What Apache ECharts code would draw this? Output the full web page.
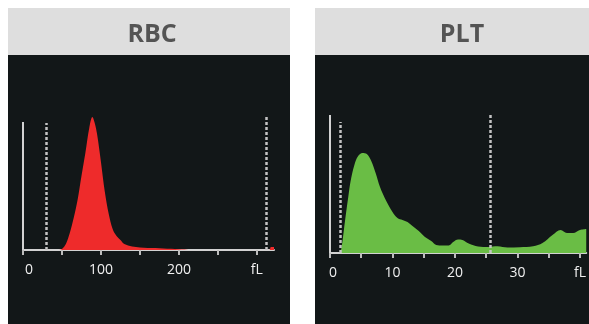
<!DOCTYPE html>
<html>
<head>
<meta charset="utf-8">
<script src="https://cdn.jsdelivr.net/npm/echarts@6/dist/echarts.min.js"></script>
<style>
html,body{margin:0;padding:0;background:#ffffff;}
#chart{width:589px;height:324px;}
</style>
</head>
<body>
<div id="chart"></div>
<script>
// ---- data ----
var panelTitles = ['RBC', 'PLT'];

// RBC histogram (volume fL, relative count)
var rbcVolume = [46, 50, 55, 60, 65, 70, 75, 80, 85, 89, 92, 95, 100, 105, 110, 115, 120, 125, 130, 140, 150, 160, 170, 180, 190, 200, 207, 212, 316, 318, 322];
var rbcCount  = [0, 1, 6, 17, 32, 50, 74, 97, 122, 133, 127, 116, 88, 58, 36, 21, 14, 10, 6, 3.5, 2.5, 2, 2, 1.6, 1.2, 0.8, 0.4, 0, 0, 3, 3];
var rbcTickValues  = [0, 50, 100, 150, 200, 250, 300];
var rbcLabelValues = [0, 100, 200, 300];
var rbcDiscriminators = [30, 312.5];

// PLT histogram (volume fL, relative count)
var pltVolume = [1.7, 2.0, 2.4, 2.9, 3.3, 3.9, 4.5, 5.2, 5.9, 6.6, 7.3, 8, 9, 10, 10.8, 11.6, 12.4, 13.2, 14.2, 15.2, 16.2, 17, 18, 19, 19.7, 20.5, 21.2, 22.2, 23.7, 25.3, 26.8, 28.4, 30.4, 32.5, 34, 35.6, 36.9, 37.9, 38.9, 40, 41];
var pltCount  = [0, 12, 32, 55, 72, 88, 97, 100, 99, 92, 80, 66, 52, 41, 35, 33, 31, 27, 22, 16, 12, 8, 7.5, 7.5, 11, 13.5, 13, 9.4, 6.5, 6, 6.7, 5.4, 5.7, 6.7, 10, 18, 23, 20, 20, 23, 24];
var pltTickValues  = [0, 5, 10, 15, 20, 25, 30, 35, 40];
var pltLabelValues = [0, 10, 20, 30, 40];
var pltDiscriminators = [1.7, 25.6];

function pairs(xs, ys){ return xs.map(function(x,i){ return [x, ys[i]]; }); }

var gridStroke = '#d2d2d2';
var labelColor = '#f0f0f0';

function xAxisFor(gridIndex, max, ticks, labels, lastLabel){
  return {
    type:'value', gridIndex:gridIndex, min:0, max:max,
    axisLine:{show:true, lineStyle:{color:gridStroke, width:2}},
    axisTick:{show:true, length:5, inside:false, customValues:ticks, lineStyle:{color:'#bdbdbd', width:2}},
    splitLine:{show:false},
    axisLabel:{
      customValues:labels, color:labelColor, fontSize:14, fontFamily:'Open Sans', margin:13,
      formatter:function(v){
        if (v === lastLabel) return 'fL';
        if (v === 0) return '{z|0}';
        return String(v);
      },
      rich:{z:{color:labelColor, fontSize:14, fontFamily:'Open Sans', padding:[0,0,0, gridIndex===0?12:6]}}
    }
  };
}
function yAxisFor(gridIndex, max){
  return {type:'value', gridIndex:gridIndex, min:0, max:max, show:false, splitLine:{show:false}};
}
function dashed(x, top){
  return [{coord:[x,0], lineStyle:{type:[3,2], color:'#c4c4c4', width:2.5}}, {coord:[x,top]}];
}

var chart = echarts.init(document.getElementById('chart'), null, {renderer:'canvas'});
chart.setOption({
  animation:false,
  backgroundColor:'#ffffff',
  graphic:[
    {type:'rect', shape:{x:8, y:8, width:282, height:47}, style:{fill:'#dedede'}, z:-10, silent:true},
    {type:'rect', shape:{x:8, y:55, width:282, height:269}, style:{fill:'#121718'}, z:-10, silent:true},
    {type:'rect', shape:{x:315, y:8, width:274, height:47}, style:{fill:'#dedede'}, z:-10, silent:true},
    {type:'rect', shape:{x:315, y:55, width:274, height:269}, style:{fill:'#121718'}, z:-10, silent:true}
  ],
  title:[
    {text:panelTitles[0], left:147, top:17, textAlign:'center', textStyle:{color:'#545454', fontSize:25, fontWeight:'bold', fontFamily:'Open Sans'}},
    {text:panelTitles[1], left:457, top:17, textAlign:'center', textStyle:{color:'#545454', fontSize:25, fontWeight:'bold', fontFamily:'Open Sans'}}
  ],
  grid:[
    {left:23, top:117, width:251, height:133},
    {left:330, top:115, width:265, height:138}
  ],
  xAxis:[
    xAxisFor(0, 322, rbcTickValues, rbcLabelValues, 300),
    xAxisFor(1, 41, pltTickValues, pltLabelValues, 40)
  ],
  yAxis:[ yAxisFor(0, 133), yAxisFor(1, 138) ],
  series:[
    {
      type:'line', xAxisIndex:0, yAxisIndex:0, data:pairs(rbcVolume, rbcCount),
      smooth:0.35, symbol:'none', clip:false,
      lineStyle:{width:0, color:'#ee2b2b'},
      areaStyle:{color:'#ee2b2b', opacity:1},
      markLine:{
        silent:true, symbol:'none', label:{show:false}, animation:false,
        data:[
          [{coord:[0,0], lineStyle:{type:'solid', color:gridStroke, width:2}}, {coord:[0,128]}],
          dashed(rbcDiscriminators[0], 127),
          dashed(rbcDiscriminators[1], 133)
        ]
      }
    },
    {
      type:'line', xAxisIndex:1, yAxisIndex:1, data:pairs(pltVolume, pltCount),
      smooth:0.35, symbol:'none', clip:false,
      lineStyle:{width:0, color:'#6abd45'},
      areaStyle:{color:'#6abd45', opacity:1},
      markLine:{
        silent:true, symbol:'none', label:{show:false}, animation:false,
        data:[
          [{coord:[0,0], lineStyle:{type:'solid', color:gridStroke, width:2}}, {coord:[0,138]}],
          dashed(pltDiscriminators[0], 131),
          dashed(pltDiscriminators[1], 138),
          [{coord:[1.5,141], lineStyle:{type:'solid', color:'rgba(235,235,235,0.6)', width:1.5}}, {coord:[8.5,141]}]
        ]
      }
    }
  ]
});
</script>
</body>
</html>
